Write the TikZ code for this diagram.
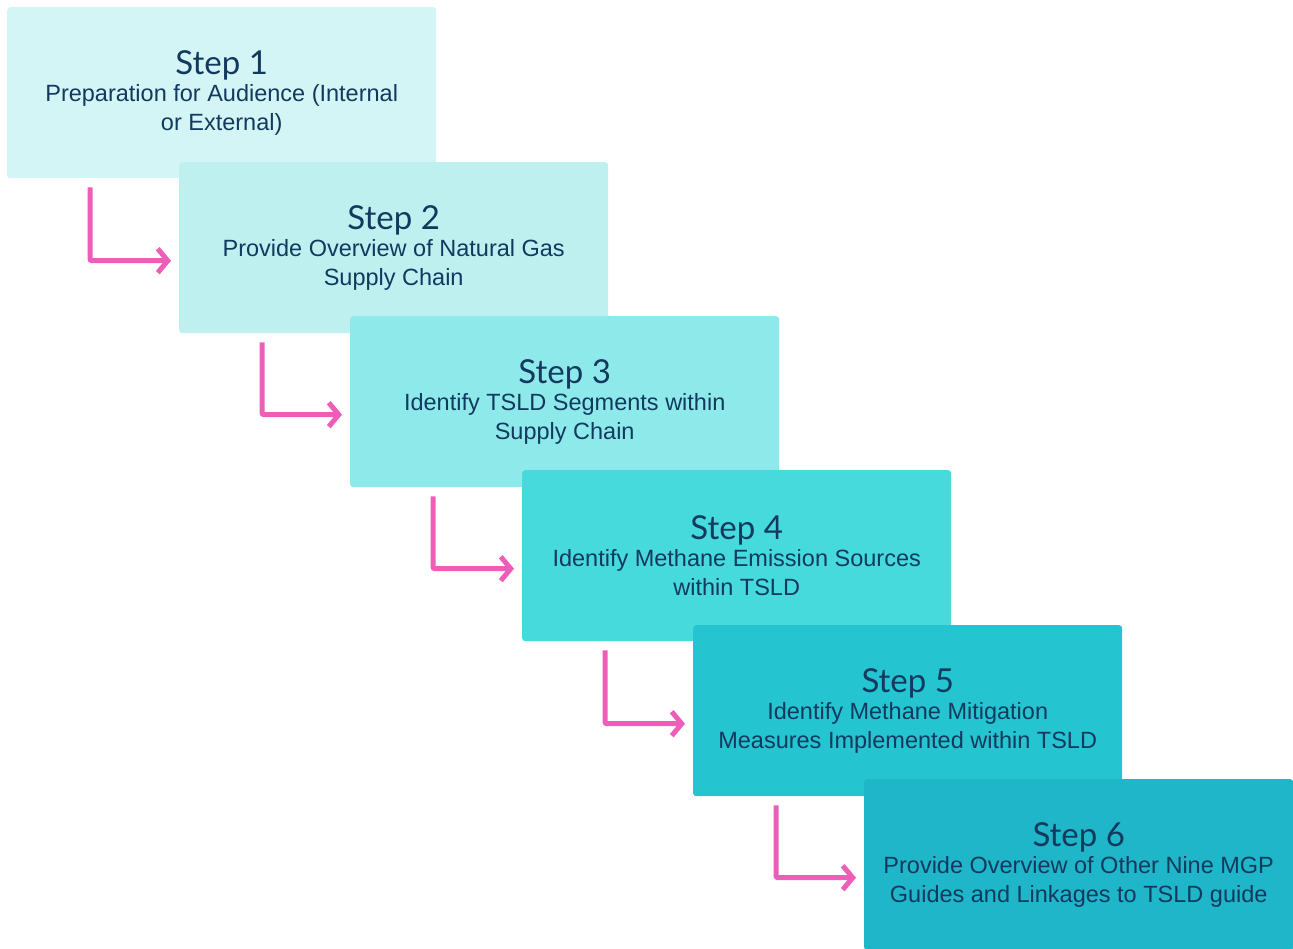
\documentclass[tikz,border=0pt]{standalone}
\usepackage{fontspec}
\setmainfont{Liberation Sans}
\newfontfamily\titlefont{Lato}
\usetikzlibrary{arrows.meta}
\definecolor{cA}{HTML}{D4F5F5}
\definecolor{cB}{HTML}{BEF0F0}
\definecolor{cC}{HTML}{8EEAEA}
\definecolor{cD}{HTML}{47DADD}
\definecolor{cE}{HTML}{25C4D1}
\definecolor{cF}{HTML}{1FB6C9}
\definecolor{navy}{HTML}{12395E}
\definecolor{pink}{HTML}{EE5DB8}
\tikzset{
  stepbox/.style={rectangle, rounded corners=3pt, minimum width=429pt, minimum height=171pt,
    inner sep=0pt, anchor=north west, align=center, text=navy,
    font=\fontsize{23.5}{29}\selectfont},
  flow/.style={draw=pink, line width=5pt, rounded corners=2pt,
    -{Straight Barb[length=10pt,width=24pt,line width=5pt]}},
}
\newcommand{\stitle}[1]{{\titlefont\fontsize{33}{31}\selectfont #1}\\[-2pt]}
\begin{document}
\begin{tikzpicture}[x=1pt,y=1pt]
\useasboundingbox (0,0) rectangle (1293,-948);
\node[stepbox, fill=cA] (b1) at (7,-7) {\stitle{Step 1}Preparation for Audience (Internal\\or External)};
\node[stepbox, fill=cB] (b2) at (179,-162) {\stitle{Step 2}Provide Overview of Natural Gas\\Supply Chain};
\node[stepbox, fill=cC] (b3) at (350,-316) {\stitle{Step 3}Identify TSLD Segments within\\Supply Chain};
\node[stepbox, fill=cD] (b4) at (522,-470) {\stitle{Step 4}Identify Methane Emission Sources\\within TSLD};
\node[stepbox, fill=cE] (b5) at (693,-625) {\stitle{Step 5}Identify Methane Mitigation\\Measures Implemented within TSLD};
\node[stepbox, fill=cF] (b6) at (864,-779) {\stitle{Step 6}Provide Overview of Other Nine MGP\\Guides and Linkages to TSLD guide};
\foreach \a/\b in {b1/b2,b2/b3,b3/b4,b4/b5,b5/b6}{
  \draw[flow] ([xshift=83pt,yshift=-9pt]\a.south west) |- ([xshift=-8pt,yshift=-13pt]\b.west);
}
\end{tikzpicture}
\end{document}
